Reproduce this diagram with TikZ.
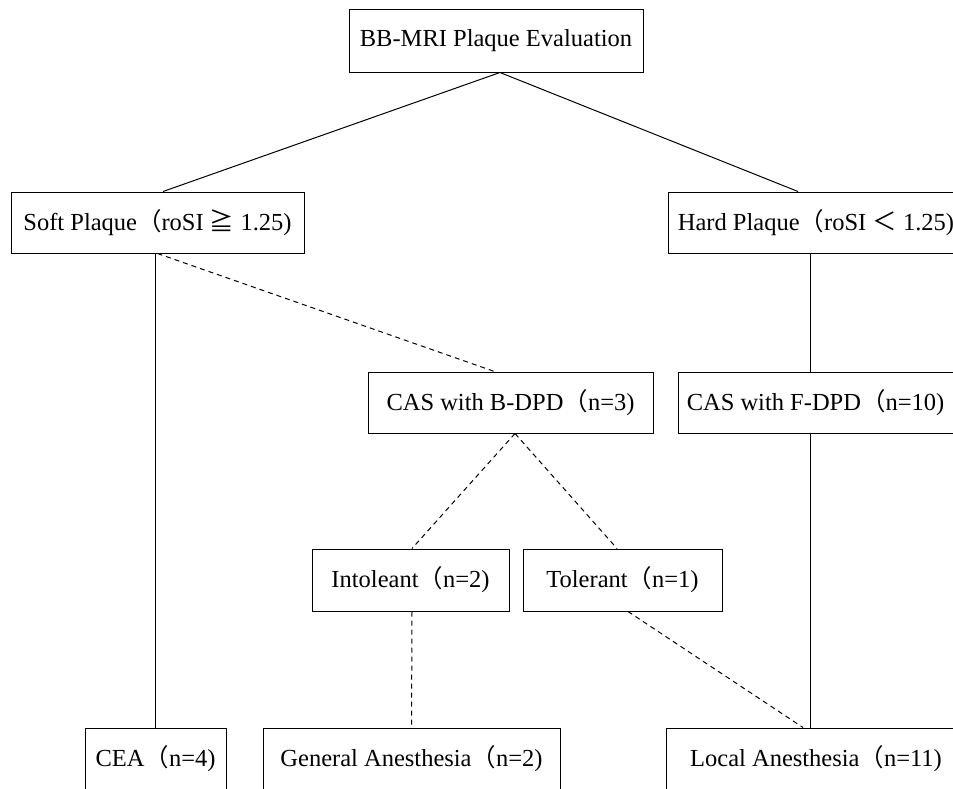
\documentclass[tikz,border=0pt]{standalone}
\usepackage{fontspec}
\setmainfont{Liberation Serif}
\newfontfamily\cjk{Noto Sans CJK JP}
\newcommand{\lp}{{\cjk （}}
\tikzset{
  box/.style={draw=black, line width=1pt, fill=white, inner sep=0pt, align=center,
    font=\fontsize{24.5}{28}\selectfont},
  solidlink/.style={draw=black, line width=1pt},
  dashlink/.style={draw=black, line width=1pt, dash pattern=on 5pt off 4pt}
}
\begin{document}
\begin{tikzpicture}[x=1pt,y=-1pt]
\useasboundingbox (0,0) rectangle (953,788);
\clip (0,0) rectangle (953,788);
\fill[white] (0,0) rectangle (953,788);
% nodes
\node[box, minimum width=294pt, minimum height=63pt] (top) at (496,40.5) {BB-MRI Plaque Evaluation};
\node[box, minimum width=293pt, minimum height=61pt] (soft) at (157.5,222.5) {Soft Plaque\lp roSI {\cjk ≧} 1.25)};
\node[box, minimum width=292pt, minimum height=61pt] (hard) at (814,222.5) {\hspace*{4pt}Hard Plaque\lp roSI {\cjk ＜} 1.25)};
\node[box, minimum width=285pt, minimum height=61pt] (bdpd) at (510.5,402.5) {CAS with B-DPD\lp n=3)};
\node[box, minimum width=275pt, minimum height=61pt] (fdpd) at (815.5,402.5) {CAS with F-DPD\lp n=10)};
\node[box, minimum width=197pt, minimum height=62pt] (intol) at (410.5,580) {Intoleant\lp n=2)};
\node[box, minimum width=199pt, minimum height=62pt] (tol) at (622.5,580) {Tolerant\lp n=1)};
\node[box, minimum width=141pt, minimum height=61pt] (cea) at (155.5,758.5) {CEA\lp n=4)};
\node[box, minimum width=297pt, minimum height=61pt] (ga) at (411.5,758.5) {General Anesthesia\lp n=2)};
\node[box, minimum width=300pt, minimum height=61pt] (local) at (816,758.5) {Local Anesthesia\lp n=11)};
\coordinate (hardstem) at ([xshift=-4pt]hard.south);
% connectors
\draw[solidlink] ([xshift=4pt]top.south) -- ([xshift=5.5pt]soft.north);
\draw[solidlink] ([xshift=4pt]top.south) -- ([xshift=-16pt]hard.north);
\draw[solidlink] (soft.south -| cea.north) -- (cea.north);
\draw[dashlink] (soft.south) -- ([xshift=-16pt]bdpd.north);
\draw[solidlink] (hardstem) -- (hardstem |- fdpd.north);
\draw[solidlink] (hardstem |- fdpd.south) -- (hardstem |- local.north);
\draw[dashlink] ([xshift=4.5pt]bdpd.south) -- ([xshift=1.5pt]intol.north);
\draw[dashlink] ([xshift=4.5pt]bdpd.south) -- ([xshift=-5.5pt]tol.north);
\draw[dashlink] ([xshift=1.5pt]intol.south) -- (ga.north);
\draw[dashlink] ([xshift=5.5pt]tol.south) -- ([xshift=-13pt]local.north);
\end{tikzpicture}
\end{document}
